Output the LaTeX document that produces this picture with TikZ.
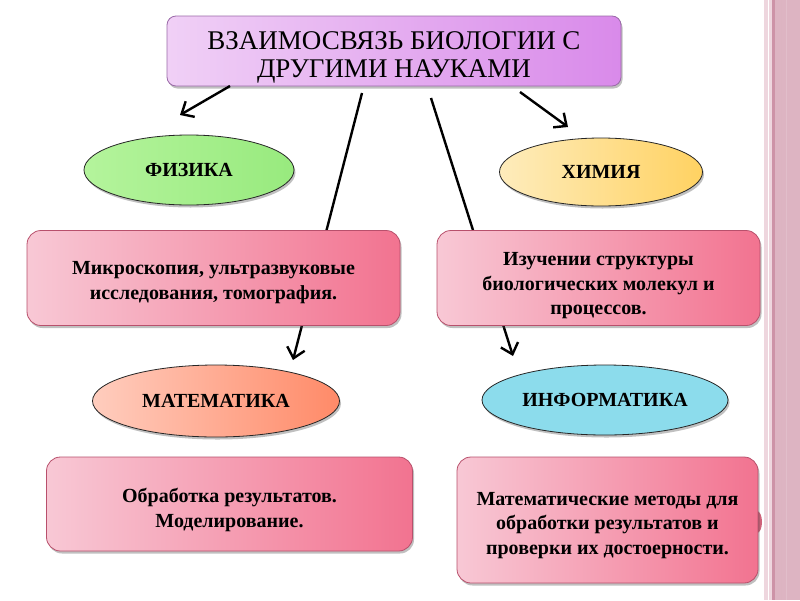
\documentclass[tikz,border=0pt]{standalone}
\usepackage{fontspec}
\setmainfont{Liberation Serif}
\usetikzlibrary{arrows.meta,shapes.geometric,shadows}
\definecolor{titleL}{HTML}{F0D0F6}
\definecolor{titleR}{HTML}{D98AEA}
\definecolor{titleB}{HTML}{9A6AA8}
\definecolor{boxL}{HTML}{F8C8D5}
\definecolor{boxR}{HTML}{F27390}
\definecolor{boxB}{HTML}{B8506C}
\definecolor{physL}{HTML}{B4F49C}
\definecolor{physR}{HTML}{98EA7E}
\definecolor{chemL}{HTML}{FEECBC}
\definecolor{chemR}{HTML}{FFD262}
\definecolor{mathL}{HTML}{FFCDBE}
\definecolor{mathR}{HTML}{FF8A68}
\definecolor{infoC}{HTML}{8CDCEC}
\definecolor{stripeA}{HTML}{EED6DE}
\definecolor{stripeB}{HTML}{CD93A7}
\definecolor{stripeC}{HTML}{DDB4C2}
\newcommand{\toppad}[1]{\rule{0pt}{#1}}
\begin{document}
\begin{tikzpicture}[x=1pt,y=-1pt,
  shadowed/.style={drop shadow={shadow xshift=1.5pt, shadow yshift=-2.5pt, opacity=0.35, fill=black!70}},
  titlebox/.style={draw=titleB, line width=0.8pt, rounded corners=9pt, left color=titleL, right color=titleR,
    minimum width=454pt, minimum height=70pt, align=center, inner sep=0pt,
    font=\fontsize{27}{28}\selectfont, shadowed},
  infobox/.style={draw=boxB, line width=0.8pt, rounded corners=14pt, left color=boxL, right color=boxR,
    align=center, inner sep=0pt, font=\bfseries\fontsize{20}{24.5}\selectfont, shadowed},
  science/.style={ellipse, draw=black!85, line width=0.8pt, inner sep=0pt,
    font=\bfseries\fontsize{20}{22}\selectfont, shadowed},
  link/.style={line width=2.4pt, -{Straight Barb[length=10pt,width=18pt,line width=2.4pt]}}
]
\useasboundingbox (0,0) rectangle (800,600);
\fill[white] (0,0) rectangle (800,600);
% right decorative border
\fill[stripeA] (764,0) rectangle (768,600);
\fill[stripeA] (769,0) rectangle (772,600);
\fill[stripeB] (772,0) rectangle (775,600);
\fill[stripeC] (775,0) rectangle (800,600);
\draw[stripeB!70, line width=0.8pt] (781,0) -- (781,600);
\draw[stripeB!60, line width=0.6pt] (786,0) -- (786,600);

% arrow end points
\coordinate (a1s) at (230,86);  \coordinate (a1e) at (180,115);
\coordinate (a2s) at (362,93);  \coordinate (a2e) at (293,360);
\coordinate (a3s) at (431,98);  \coordinate (a3e) at (513,356);
\coordinate (a4s) at (520,92);  \coordinate (a4e) at (568,127);
\draw[link] (a2s) -- (a2e);
\draw[link] (a3s) -- (a3e);

% small bump behind the last box
\node[ellipse, fill=boxR!85!black, minimum width=10pt, minimum height=22pt, inner sep=0pt] (bump) at (757,522) {};

\node[titlebox] (title) at (394,51) {\toppad{31pt}ВЗАИМОСВЯЗЬ БИОЛОГИИ С\\ДРУГИМИ НАУКАМИ};
\draw[link] (a1s) -- (a1e);
\draw[link] (a4s) -- (a4e);

\node[science, left color=physL, right color=physR, minimum width=210pt, minimum height=70pt] (phys) at (189,170) {ФИЗИКА};
\node[science, left color=chemL, right color=chemR, minimum width=203pt, minimum height=68pt] (chem) at (601,172) {ХИМИЯ};

\node[infobox, minimum width=373pt, minimum height=95pt] (box1) at (213.5,278) {\toppad{22pt}Микроскопия, ультразвуковые\\исследования, томография.};
\node[infobox, minimum width=323pt, minimum height=95pt] (box2) at (598.5,278) {\toppad{29pt}Изучении структуры\\биологических молекул и\\процессов.};

\node[science, left color=mathL, right color=mathR, minimum width=247pt, minimum height=72pt] (math) at (216,401) {МАТЕМАТИКА};
\node[science, fill=infoC, minimum width=246pt, minimum height=70pt] (info) at (605,400) {ИНФОРМАТИКА};

\node[infobox, minimum width=366pt, minimum height=94pt] (box3) at (229.5,504) {\toppad{26pt}Обработка результатов.\\Моделирование.};
\node[infobox, minimum width=301pt, minimum height=126pt] (box4) at (607.5,520) {\toppad{24pt}Математические методы для\\обработки результатов и\\проверки их достоерности.};
\end{tikzpicture}
\end{document}
